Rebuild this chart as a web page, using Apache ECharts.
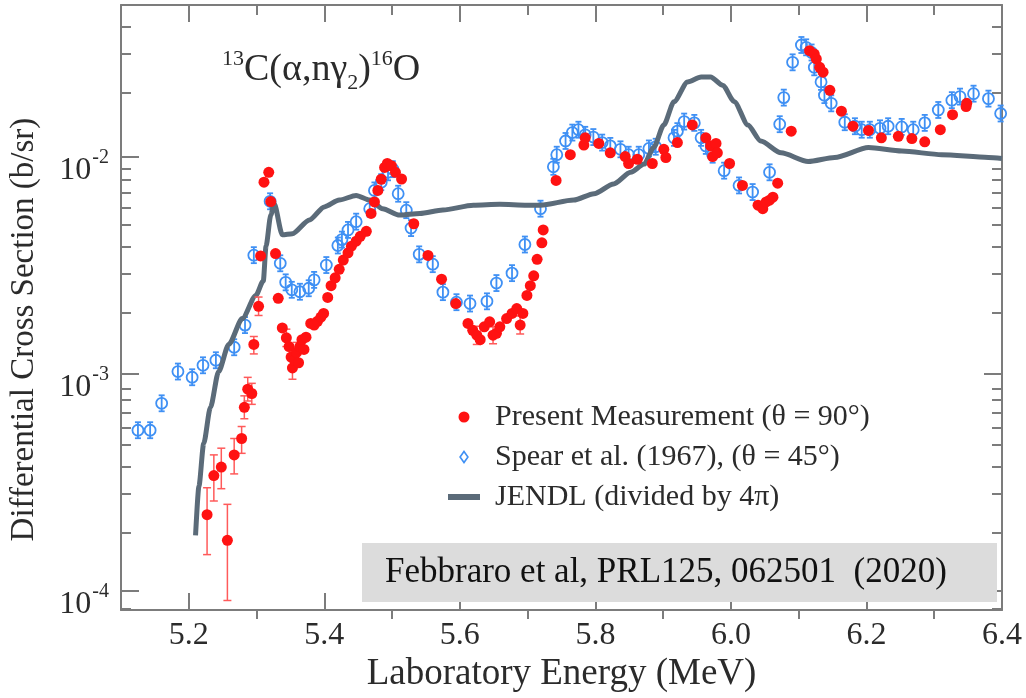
<!DOCTYPE html>
<html>
<head>
<meta charset="utf-8">
<script src="https://cdn.jsdelivr.net/npm/echarts@6/dist/echarts.min.js"></script>
<style>
html,body{margin:0;padding:0;background:#fff;}
#chart{width:1026px;height:698px;}
</style>
</head>
<body>
<div id="chart"></div>
<script>
// present measurement, theta = 90 deg
var redE = [
  5.227,5.237,5.248,5.257,5.267,5.278,5.282,5.287,5.293,5.296,
  5.303,5.306,5.311,5.318,5.321,5.328,5.332,5.338,5.344,5.348,
  5.351,5.353,5.356,5.359,5.362,5.364,5.367,5.370,5.373,5.380,
  5.385,5.390,5.395,5.399,5.405,5.410,5.416,5.422,5.428,5.435,
  5.440,5.447,5.453,5.462,5.469,5.474,5.479,5.484,5.489,5.493,
  5.499,5.505,5.514,5.532,5.553,5.573,5.594,5.612,5.619,5.625,
  5.630,5.636,5.644,5.649,5.654,5.659,5.669,5.677,5.684,5.689,
  5.693,5.699,5.704,5.709,5.714,5.721,5.723,5.742,5.763,5.783,
  5.785,5.805,5.822,5.844,5.849,5.862,5.884,5.901,5.904,5.921,
  5.943,5.963,5.970,5.973,5.978,5.980,5.998,6.017,6.040,6.047,
  6.052,6.057,6.062,6.069,6.089,6.116,6.123,6.126,6.131,6.136,
  6.146,6.163,6.180,6.203,6.222,6.247,6.267,6.286,6.309,6.327,
  6.347,6.348
];
var redV = [
  2.23e-4,3.38e-4,3.70e-4,1.70e-4,4.21e-4,5.01e-4,6.98e-4,8.46e-4,8.08e-4,1.36e-3,
  2.04e-3,3.48e-3,7.62e-3,8.46e-3,6.20e-3,3.57e-3,2.22e-3,1.62e-3,1.46e-3,1.33e-3,
  1.19e-3,1.06e-3,1.15e-3,1.25e-3,1.12e-3,1.33e-3,1.43e-3,1.29e-3,1.47e-3,1.70e-3,
  1.67e-3,1.74e-3,1.82e-3,1.89e-3,2.24e-3,2.54e-3,2.76e-3,3.02e-3,3.33e-3,3.60e-3,
  3.86e-3,4.07e-3,4.29e-3,4.52e-3,5.47e-3,6.18e-3,6.98e-3,7.86e-3,8.91e-3,9.30e-3,
  9.07e-3,8.46e-3,7.88e-3,4.90e-3,3.50e-3,2.72e-3,2.10e-3,1.70e-3,1.58e-3,1.50e-3,
  1.43e-3,1.64e-3,1.73e-3,1.50e-3,1.53e-3,1.64e-3,1.79e-3,1.89e-3,1.99e-3,1.67e-3,
  1.89e-3,2.29e-3,2.54e-3,2.82e-3,3.36e-3,4.00e-3,4.59e-3,7.76e-3,1.02e-2,1.13e-2,
  1.22e-2,1.15e-2,1.04e-2,1.00e-2,9.29e-3,9.72e-3,9.29e-3,1.08e-2,9.90e-3,1.16e-2,
  1.40e-2,1.22e-2,1.12e-2,1.00e-2,1.15e-2,1.04e-2,9.29e-3,7.36e-3,5.97e-3,5.75e-3,
  6.18e-3,6.29e-3,6.50e-3,7.54e-3,1.31e-2,3.08e-2,2.97e-2,2.82e-2,2.58e-2,2.45e-2,
  2.02e-2,1.62e-2,1.38e-2,1.32e-2,1.22e-2,1.24e-2,1.21e-2,1.17e-2,1.33e-2,1.56e-2,
  1.70e-2,1.76e-2
];
// visible error bars of the present measurement
var errE  = [5.227,5.237,5.248,5.257,5.267,5.278,5.282,5.287,5.293,5.296,5.303,5.344,5.351,5.353,5.359,5.625,5.649,5.689];
var errLo = [1.46e-4,2.58e-4,2.94e-4,8.97e-5,3.44e-4,4.28e-4,6.18e-4,7.46e-4,7.20e-4,1.23e-3,1.85e-3,1.33e-3,1.07e-3,9.40e-4,1.12e-3,1.36e-3,1.37e-3,1.52e-3];
var errHi = [2.97e-4,4.21e-4,4.52e-4,2.49e-4,5.01e-4,5.69e-4,7.88e-4,9.59e-4,9.00e-4,1.48e-3,2.25e-3,1.60e-3,1.32e-3,1.18e-3,1.39e-3,1.65e-3,1.64e-3,1.84e-3];

// Spear et al. (1967), theta = 45 deg
var spearE = [
  5.125,5.143,5.160,5.184,5.205,5.221,5.240,5.267,5.283,5.296,
  5.320,5.335,5.343,5.352,5.364,5.377,5.385,5.403,5.420,5.426,
  5.435,5.447,5.467,5.474,5.484,5.494,5.501,5.509,5.521,5.528,
  5.540,5.560,5.575,5.595,5.615,5.640,5.654,5.677,5.696,5.719,
  5.738,5.743,5.756,5.766,5.775,5.785,5.797,5.810,5.822,5.837,
  5.849,5.864,5.879,5.889,5.916,5.921,5.931,5.946,5.956,5.963,
  5.973,5.990,6.012,6.032,6.057,6.072,6.078,6.091,6.104,6.111,
  6.119,6.123,6.133,6.138,6.148,6.168,6.183,6.193,6.205,6.220,
  6.232,6.252,6.269,6.286,6.306,6.326,6.338,6.358,6.380,6.398
];
var spearV = [
  5.47e-4,5.47e-4,7.28e-4,1.02e-3,9.60e-4,1.09e-3,1.15e-3,1.32e-3,1.67e-3,3.51e-3,
  6.22e-3,3.22e-3,2.63e-3,2.43e-3,2.38e-3,2.47e-3,2.70e-3,3.16e-3,3.89e-3,4.14e-3,
  4.59e-3,5.01e-3,5.75e-3,6.98e-3,7.62e-3,8.46e-3,8.75e-3,6.74e-3,5.66e-3,4.68e-3,
  3.54e-3,3.19e-3,2.37e-3,2.13e-3,2.10e-3,2.15e-3,2.61e-3,2.90e-3,3.93e-3,5.75e-3,
  8.97e-3,1.02e-2,1.18e-2,1.29e-2,1.33e-2,1.26e-2,1.23e-2,1.16e-2,1.12e-2,1.08e-2,
  1.02e-2,1.02e-2,1.09e-2,1.11e-2,1.22e-2,1.31e-2,1.45e-2,1.43e-2,1.22e-2,1.12e-2,
  1.02e-2,8.61e-3,7.36e-3,6.86e-3,8.46e-3,1.41e-2,1.87e-2,2.72e-2,3.27e-2,3.19e-2,
  3.02e-2,2.58e-2,2.21e-2,1.92e-2,1.76e-2,1.44e-2,1.38e-2,1.33e-2,1.33e-2,1.35e-2,
  1.38e-2,1.37e-2,1.33e-2,1.43e-2,1.64e-2,1.82e-2,1.89e-2,1.95e-2,1.85e-2,1.58e-2
];

// JENDL, divided by 4 pi
var jendlE = [
  5.210,5.215,5.222,5.232,5.244,5.259,5.279,5.299,5.310,5.314,
  5.321,5.326,5.338,5.353,5.378,5.400,5.422,5.447,5.467,5.486,
  5.511,5.541,5.575,5.620,5.659,5.699,5.719,5.768,5.798,5.827,
  5.852,5.872,5.886,5.901,5.916,5.936,5.956,5.970,5.988,6.005,
  6.025,6.044,6.074,6.114,6.153,6.203,6.252,6.311,6.380,6.400
];
var jendlV = [
  1.79e-4,3.02e-4,4.75e-4,6.98e-4,1.02e-3,1.36e-3,1.79e-3,2.29e-3,2.67e-3,3.86e-3,
  5.37e-3,6.07e-3,4.36e-3,4.41e-3,5.10e-3,5.86e-3,6.30e-3,6.62e-3,6.30e-3,5.75e-3,
  5.37e-3,5.47e-3,5.67e-3,5.97e-3,6.03e-3,5.97e-3,5.97e-3,6.30e-3,6.74e-3,7.48e-3,
  8.46e-3,9.23e-3,1.10e-2,1.40e-2,1.79e-2,2.21e-2,2.33e-2,2.33e-2,2.13e-2,1.79e-2,
  1.40e-2,1.18e-2,1.04e-2,9.49e-3,9.90e-3,1.10e-2,1.06e-2,1.02e-2,9.90e-3,9.80e-3
];

// axis ticks
var xMajor = [5.2,5.4,5.6,5.8,6.0,6.2,6.4];
var xMinor = [5.3,5.5,5.7,5.9,6.1,6.3];
var yMajor = [1e-4,1e-3,1e-2];
var yMinor = [9e-5,2e-4,3e-4,4e-4,5e-4,6e-4,7e-4,8e-4,9e-4,2e-3,3e-3,4e-3,5e-3,6e-3,7e-3,8e-3,9e-3,2e-2,3e-2,4e-2];

var names = ['Present Measurement (\u03b8 = 90\u00b0)', 'Spear et al. (1967), (\u03b8 = 45\u00b0)', 'JENDL (divided by 4\u03c0)'];

var FONT = 'Liberation Serif';
var AX = '#7c7c7c';
var TXT = '#2b2b2b';
var RED = '#ff1212';
var BLUE = '#3f90f4';
var SLATE = '#5b6b79';

function zip(a, b) {
  var out = [];
  for (var i = 0; i < a.length; i++) out.push([a[i], b[i]]);
  return out;
}
var errData = [];
for (var i = 0; i < errE.length; i++) errData.push([errE[i], errLo[i], errHi[i]]);

function drawRed(params, api) {
  var p = api.coord([api.value(0), api.value(1)]);
  return {type: 'circle', shape: {cx: p[0], cy: p[1], r: 5.5}, style: {fill: RED}};
}
function drawErr(params, api) {
  var a = api.coord([api.value(0), api.value(1)]);
  var b = api.coord([api.value(0), api.value(2)]);
  var st = {stroke: '#ff5a5a', lineWidth: 1.5};
  return {type: 'group', children: [
    {type: 'line', shape: {x1: a[0], y1: a[1], x2: b[0], y2: b[1]}, style: st},
    {type: 'line', shape: {x1: a[0] - 4, y1: a[1], x2: a[0] + 4, y2: a[1]}, style: st},
    {type: 'line', shape: {x1: b[0] - 4, y1: b[1], x2: b[0] + 4, y2: b[1]}, style: st}
  ]};
}
function drawSpear(params, api) {
  var p = api.coord([api.value(0), api.value(1)]);
  var st = {stroke: BLUE, lineWidth: 1.8, fill: 'transparent'};
  return {type: 'group', children: [
    {type: 'circle', shape: {cx: p[0], cy: p[1], r: 5.5}, style: st},
    {type: 'line', shape: {x1: p[0], y1: p[1] - 8, x2: p[0], y2: p[1] + 8}, style: st},
    {type: 'line', shape: {x1: p[0] - 3, y1: p[1] - 8, x2: p[0] + 3, y2: p[1] - 8}, style: st},
    {type: 'line', shape: {x1: p[0] - 3, y1: p[1] + 8, x2: p[0] + 3, y2: p[1] + 8}, style: st}
  ]};
}

function xAx(grid, pos, ticks, len, line, label) {
  return {
    gridIndex: grid, type: 'value', min: 5.1, max: 6.4, position: pos,
    axisLine: {show: line, onZero: false, lineStyle: {color: AX, width: 2}},
    axisTick: {show: true, inside: true, length: len, customValues: ticks, lineStyle: {color: AX, width: 2}},
    axisLabel: label ? {customValues: ticks, formatter: function (v) { return v.toFixed(1); },
      fontSize: 32, fontFamily: FONT, color: TXT, margin: 9} : {show: false},
    splitLine: {show: false}
  };
}
function yAx(grid, pos, ticks, len, line, label) {
  return {
    gridIndex: grid, type: 'log', logBase: 10, min: 8.1e-5, max: 0.05, position: pos,
    axisLine: {show: line, onZero: false, lineStyle: {color: AX, width: 2}},
    axisTick: {show: true, inside: true, length: len, customValues: ticks, lineStyle: {color: AX, width: 2}},
    axisLabel: label ? {
      customValues: ticks, margin: 12,
      formatter: function (v) { return '{b|10}{s|' + Math.round(Math.log10(v)) + '}'; },
      rich: {
        b: {fontSize: 32, fontFamily: FONT, color: TXT, lineHeight: 32, padding: [14, 0, 0, 0], verticalAlign: 'top'},
        s: {fontSize: 20, fontFamily: FONT, color: TXT, lineHeight: 20, padding: [7, 0, 0, 1], verticalAlign: 'top'}
      }
    } : {show: false},
    splitLine: {show: false}
  };
}

var xa0 = xAx(0, 'bottom', xMajor, 17, true, true);
xa0.name = 'Laboratory Energy (MeV)';
xa0.nameLocation = 'middle';
xa0.nameGap = 42;
xa0.nameTextStyle = {fontSize: 37, fontFamily: FONT, color: TXT};
var ya0 = yAx(0, 'left', yMajor, 18, true, true);
ya0.name = 'Differential Cross Section (b/sr)';
ya0.nameLocation = 'middle';
ya0.nameGap = 80;
ya0.nameTextStyle = {fontSize: 33, fontFamily: FONT, color: TXT, padding: [0, 44, 0, 0]};

var gridBox = {left: 121, right: 24, top: 5, bottom: 79};

var option = {
  backgroundColor: '#ffffff',
  animation: false,
  grid: [
    Object.assign({}, gridBox),
    Object.assign({}, gridBox)
  ],
  xAxis: [
    xa0,
    xAx(0, 'top', xMajor, 17, true, false),
    xAx(1, 'bottom', xMinor, 10, false, false),
    xAx(1, 'top', xMinor, 10, false, false)
  ],
  yAxis: [
    ya0,
    yAx(0, 'right', yMajor, 18, true, false),
    yAx(1, 'left', yMinor, 10, false, false),
    yAx(1, 'right', yMinor, 10, false, false)
  ],
  legend: {
    orient: 'vertical', left: 443, top: 397, itemGap: 10,
    itemWidth: 32, itemHeight: 11,
    textStyle: {fontSize: 30, fontFamily: FONT, color: TXT, lineHeight: 30, padding: [0, 0, 0, 10]},
    data: [
      {name: names[0], icon: 'circle'},
      {name: names[1], icon: 'path://M5,0L10,7L5,14L0,7Z',
        itemStyle: {color: '#ffffff', borderColor: BLUE, borderWidth: 1.6}},
      {name: names[2], icon: 'path://M0,0L32,0L32,6L0,6Z', itemStyle: {color: SLATE}}
    ]
  },
  graphic: [
    {
      type: 'text', left: 222, top: 48, z: 10,
      style: {
        text: '{s|13}{m|C(\u03b1,n\u03b3}{d|2}{m|)}{s|16}{m|O}',
        rich: {
          m: {fontSize: 38, fontFamily: FONT, fill: TXT, lineHeight: 38, padding: [3, 0, 0, 0], verticalAlign: 'top'},
          s: {fontSize: 22, fontFamily: FONT, fill: TXT, lineHeight: 22, verticalAlign: 'top'},
          d: {fontSize: 22, fontFamily: FONT, fill: TXT, lineHeight: 22, padding: [24, 0, 0, 0], verticalAlign: 'top'}
        }
      }
    },
    {
      type: 'rect', left: 362, top: 543, z: 10,
      shape: {width: 635, height: 59},
      style: {fill: '#dcdcdc'}
    },
    {
      type: 'text', left: 385, top: 555, z: 11,
      style: {text: 'Febbraro et al, PRL125, 062501  (2020)', fontSize: 35, fontFamily: FONT, fill: '#111'}
    }
  ],
  series: [
    {
      name: names[1], type: 'custom', xAxisIndex: 0, yAxisIndex: 0, z: 2,
      itemStyle: {color: BLUE}, renderItem: drawSpear, data: zip(spearE, spearV)
    },
    {
      name: names[2], type: 'line', xAxisIndex: 0, yAxisIndex: 0, z: 3,
      symbol: 'none', smooth: 0.25, smoothMonotone: 'x',
      lineStyle: {color: SLATE, width: 5}, itemStyle: {color: SLATE},
      data: zip(jendlE, jendlV)
    },
    {
      type: 'custom', xAxisIndex: 0, yAxisIndex: 0, z: 4,
      renderItem: drawErr, data: errData
    },
    {
      name: names[0], type: 'custom', xAxisIndex: 0, yAxisIndex: 0, z: 5,
      itemStyle: {color: RED}, renderItem: drawRed, data: zip(redE, redV)
    }
  ]
};

var chart = echarts.init(document.getElementById('chart'), null, {renderer: 'canvas'});
chart.setOption(option);
</script>
</body>
</html>
